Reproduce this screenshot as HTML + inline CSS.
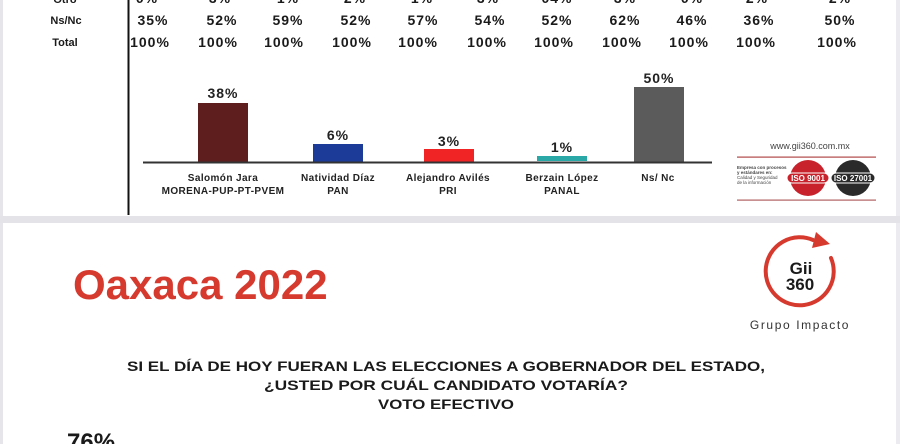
<!DOCTYPE html>
<html><head><meta charset="utf-8"><style>
html,body{margin:0;padding:0;background:#fff;}
svg{display:block;}
text{font-family:"Liberation Sans",sans-serif;}
</style></head><body>
<svg width="900" height="444" viewBox="0 0 900 444" xmlns="http://www.w3.org/2000/svg">
<rect width="900" height="444" fill="#ffffff"/>
<!-- frame -->
<rect x="0" y="0" width="3" height="444" fill="#e6e6ea"/>
<rect x="896" y="0" width="4" height="444" fill="#ececf0"/>
<rect x="0" y="216" width="900" height="7" fill="#e4e4e8"/>
<!-- vertical line -->
<rect x="127.5" y="0" width="2" height="215" fill="#111"/>

<!-- table -->
<g font-weight="bold" fill="#1a1a1a" text-anchor="middle">
<g font-size="11">
<text x="65" y="3">Otro</text>
<text x="66" y="24">Ns/Nc</text>
<text x="65" y="46">Total</text>
</g>
<g font-size="14" letter-spacing="1">
<text x="147" y="3">0%</text><text x="220" y="3">3%</text><text x="288" y="3">1%</text><text x="355" y="3">2%</text><text x="422" y="3">1%</text><text x="488" y="3">3%</text><text x="557" y="3">04%</text><text x="625" y="3">3%</text><text x="692" y="3">0%</text><text x="757" y="3">2%</text><text x="840" y="3">2%</text>
<text x="153" y="25">35%</text><text x="222" y="25">52%</text><text x="288" y="25">59%</text><text x="356" y="25">52%</text><text x="423" y="25">57%</text><text x="490" y="25">54%</text><text x="557" y="25">52%</text><text x="625" y="25">62%</text><text x="692" y="25">46%</text><text x="759" y="25">36%</text><text x="840" y="25">50%</text>
<text x="150" y="47">100%</text><text x="218" y="47">100%</text><text x="284" y="47">100%</text><text x="352" y="47">100%</text><text x="418" y="47">100%</text><text x="487" y="47">100%</text><text x="554" y="47">100%</text><text x="622" y="47">100%</text><text x="689" y="47">100%</text><text x="756" y="47">100%</text><text x="837" y="47">100%</text>
</g>
</g>

<!-- bars -->
<rect x="198" y="103" width="50" height="59" fill="#5e1e1e"/>
<rect x="313" y="144" width="50" height="18" fill="#1c3a98"/>
<rect x="424" y="149" width="50" height="13" fill="#f02424"/>
<rect x="537" y="156" width="50" height="5" fill="#2aa8a8"/>
<rect x="634" y="87" width="50" height="75" fill="#5b5b5b"/>
<rect x="143" y="161.5" width="569" height="2" fill="#333"/>
<g font-weight="bold" fill="#222" text-anchor="middle" font-size="14" letter-spacing="1">
<text x="223" y="98">38%</text>
<text x="338" y="140">6%</text>
<text x="449" y="146">3%</text>
<text x="562" y="152">1%</text>
<text x="659" y="83">50%</text>
</g>
<g font-weight="bold" fill="#222" text-anchor="middle" font-size="10" letter-spacing="0.4">
<text x="223" y="181">Salomón Jara</text>
<text x="223" y="194">MORENA-PUP-PT-PVEM</text>
<text x="338" y="181">Natividad Díaz</text>
<text x="338" y="194">PAN</text>
<text x="448" y="181">Alejandro Avilés</text>
<text x="448" y="194">PRI</text>
<text x="562" y="181">Berzain López</text>
<text x="562" y="194">PANAL</text>
<text x="658" y="181">Ns/ Nc</text>
</g>

<!-- small logos -->
<text x="810" y="149" font-size="9" fill="#444" text-anchor="middle">www.gii360.com.mx</text>
<rect x="737" y="156.5" width="139" height="1.2" fill="#b04848"/>
<rect x="737" y="199.5" width="139" height="1.2" fill="#b06060"/>
<g font-size="4.5" fill="#444">
<text x="737" y="169" font-weight="bold">Empresa con procesos</text>
<text x="737" y="174" font-weight="bold">y estándares en:</text>
<text x="737" y="179">Calidad y Seguridad</text>
<text x="737" y="184">de la información</text>
</g>
<circle cx="808" cy="178" r="18" fill="#c8232c"/>
<rect x="787" y="173" width="42" height="10" rx="5" fill="#c8232c" stroke="#fff" stroke-width="1"/>
<text x="808" y="181" font-size="8" font-weight="bold" fill="#fff" text-anchor="middle">ISO 9001</text>
<circle cx="853" cy="178" r="18" fill="#2a2a2a"/>
<rect x="831" y="173" width="44" height="10" rx="5" fill="#2a2a2a" stroke="#fff" stroke-width="1"/>
<text x="853" y="181" font-size="8" font-weight="bold" fill="#fff" text-anchor="middle">ISO 27001</text>

<!-- lower panel -->
<text x="73" y="299" font-size="42" font-weight="bold" fill="#d63a2f">Oaxaca 2022</text>

<!-- Gii360 logo -->
<path d="M 831 258 A 34 34 0 1 1 813 240" fill="none" stroke="#d63a2f" stroke-width="4" stroke-linecap="round"/>
<path d="M 816 232 L 830 244 L 812 248 Z" fill="#d63a2f"/>
<text x="801" y="274" font-size="17" font-weight="bold" fill="#1a1a1a" text-anchor="middle">Gii</text>
<text x="800" y="290" font-size="17" font-weight="bold" fill="#1a1a1a" text-anchor="middle">360</text>
<text x="800" y="329" font-size="12" fill="#333" text-anchor="middle" letter-spacing="1.6">Grupo Impacto</text>

<g font-weight="bold" fill="#1a1a1a" font-size="14" text-anchor="middle">
<text x="446" y="371" textLength="638" lengthAdjust="spacingAndGlyphs">SI EL DÍA DE HOY FUERAN LAS ELECCIONES A GOBERNADOR DEL ESTADO,</text>
<text x="446" y="390" textLength="364" lengthAdjust="spacingAndGlyphs">¿USTED POR CUÁL CANDIDATO VOTARÍA?</text>
<text x="446" y="409" textLength="136" lengthAdjust="spacingAndGlyphs">VOTO EFECTIVO</text>
</g>
<text x="67" y="450" font-size="24" font-weight="bold" fill="#1a1a1a">76%</text>
</svg>
</body></html>
